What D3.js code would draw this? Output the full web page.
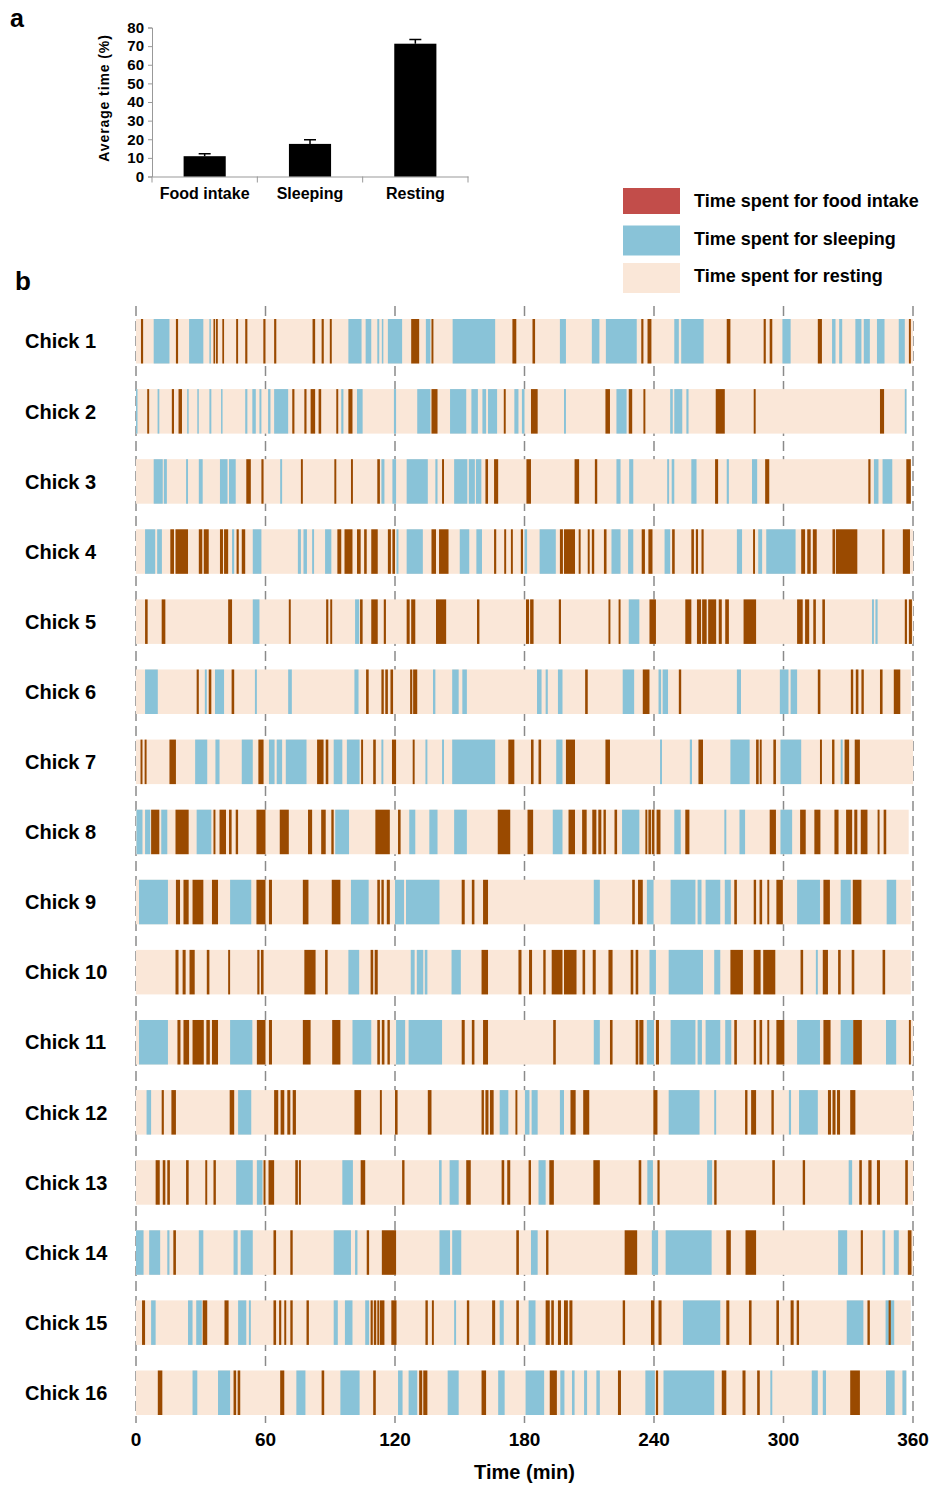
<!DOCTYPE html>
<html>
<head>
<meta charset="utf-8">
<script src="https://cdn.jsdelivr.net/npm/d3@7"></script>
<style>
  body { margin: 0; background: #fff; }
  svg { display: block; font-family: Arial, "Liberation Sans", sans-serif; font-weight: bold; }
</style>
</head>
<body>
<div id="vis"></div>
<script>
// ---- panel a: average time per behaviour ----
var behaviours = ['Food intake', 'Sleeping', 'Resting'];
var avgTime = [10.9, 17.5, 71.3];
var avgErr = [1.3, 2.2, 2.3];
var yTicks = [0, 10, 20, 30, 40, 50, 60, 70, 80];

// ---- panel b: ethogram, one array per chick ----
// each entry: [start min, end min, 'F' food intake | 'S' sleeping], rest of the time is resting
var chickNames = ['Chick 1', 'Chick 2', 'Chick 3', 'Chick 4', 'Chick 5', 'Chick 6', 'Chick 7', 'Chick 8',
  'Chick 9', 'Chick 10', 'Chick 11', 'Chick 12', 'Chick 13', 'Chick 14', 'Chick 15', 'Chick 16'];
var sessionEnd = [360, 357, 359, 360, 360, 359, 360, 358, 359, 359, 360, 360, 360, 360, 359, 357];
var timeTicks = [0, 60, 120, 180, 240, 300, 360];

var chick1 = [[2.3,3.3,'F'],[8.2,15.5,'S'],[18.5,19.5,'F'],[24.6,31.2,'S'],[34,34.7,'S'],[35.9,36.6,'F'],[37,37.9,'F'],
  [40,40.8,'F'],[46.4,47.3,'F'],[50.6,51.6,'F'],[59,60,'F'],[64,65,'F'],[81.8,83,'F'],[86,87,'F'],[89.8,90.7,'F'],
  [98.4,104.5,'S'],[106.4,109,'S'],[111.8,112.7,'S'],[113.9,114.6,'S'],[116.7,123.3,'S'],[127.5,131.2,'F'],
  [134.3,136.4,'S'],[136.9,137.8,'F'],[146.7,166.4,'S'],[174.4,176.2,'F'],[183.7,184.9,'F'],[196.4,199.2,'S'],
  [211.2,214.7,'S'],[217.7,232,'S'],[234.1,235.1,'F'],[237,238.8,'F'],[249.4,251.5,'S'],[252.6,263,'S'],
  [273.7,275.4,'F'],[290.8,291.8,'F'],[293.6,294.8,'F'],[299.5,303.3,'S'],[315.9,317.8,'F'],[322.5,324.1,'S'],
  [325.8,327.2,'S'],[333.3,336.1,'S'],[337.2,340,'S'],[343.3,346.8,'S'],[353.4,356.2,'S'],[358.1,359,'F']];

var chick2 = [[0,0.6,'S'],[5.2,6.1,'F'],[10,10.8,'S'],[16.6,17.6,'F'],[19.7,21.3,'F'],[23.7,24.4,'S'],[28.4,29.1,'S'],
  [34,34.9,'S'],[39.4,40.1,'S'],[50.6,51.6,'S'],[53.9,55.5,'S'],[57.2,58.1,'S'],[61.2,62.3,'S'],[64,70.5,'S'],
  [72.4,73.4,'F'],[78,79,'F'],[80.9,83,'F'],[84.6,85.8,'F'],[92.8,93.7,'F'],[95.1,96.1,'S'],[98.4,100.3,'F'],
  [102.4,105,'S'],[119.5,120.5,'S'],[130.3,136.4,'S'],[136.9,139.7,'F'],[145.5,153,'S'],[155.4,158.4,'S'],
  [160.5,162.2,'S'],[163.1,167.3,'S'],[170.4,171.3,'F'],[175.3,177.2,'S'],[178.8,180,'S'],[183,186.1,'F'],
  [198.3,199.2,'S'],[217.5,219.6,'F'],[222.6,227.3,'S'],[228.3,229.9,'F'],[235.1,236,'F'],[247.5,248.7,'S'],
  [249.4,253.1,'S'],[255,256,'S'],[268.6,272.8,'F'],[286.2,287.1,'F'],[344.7,346.6,'F'],[356.2,357,'S']];

var chick3 = [[8.2,12.4,'S'],[12.9,14.3,'S'],[23.2,24.1,'S'],[29.1,30.9,'S'],[38.9,42.4,'S'],[43.1,46.2,'S'],
  [51.1,53.2,'F'],[58.1,59.1,'F'],[66.8,67.7,'S'],[76.4,77.3,'F'],[91.9,92.8,'F'],[99.6,100.5,'F'],[111.8,113,'F'],
  [113.7,115.1,'S'],[118.8,120.5,'S'],[125.4,135.2,'S'],[138.7,139.7,'S'],[141.8,142.7,'F'],[147.4,153.5,'S'],
  [154.2,157,'S'],[157.5,160,'S'],[161.9,163.1,'F'],[165.9,167.8,'F'],[180.9,183,'F'],[203.2,205.3,'F'],
  [212.6,213.7,'F'],[222.6,224.5,'S'],[228.5,230.4,'S'],[246.1,247,'S'],[248.2,249.4,'S'],[257.3,259.7,'S'],
  [268.3,269.7,'F'],[273.7,274.7,'S'],[285.4,287.8,'S'],[291.5,293.4,'F'],[339.3,340.3,'F'],[341.9,344,'S'],
  [345.9,350.4,'S'],[356.9,359,'F']];

var chick4 = [[4.2,8.9,'S'],[9.8,12,'S'],[15.9,17.6,'F'],[18.3,24.1,'F'],[29.1,30.7,'F'],[31.4,33.7,'F'],
  [38.9,40.3,'F'],[40.8,42.7,'F'],[44.5,45.5,'S'],[46.6,47.6,'F'],[49,50.6,'F'],[54.1,58.1,'S'],[75,76.4,'S'],
  [77.6,79.2,'S'],[81.6,82.5,'S'],[87.6,90.5,'S'],[93.3,95.1,'F'],[96.6,100.3,'F'],[102.4,104.1,'F'],
  [105.7,106.9,'F'],[109,112,'F'],[116.7,118.1,'F'],[118.8,120,'F'],[120.7,121.6,'S'],[125.4,132.9,'S'],
  [136.9,139,'F'],[140.4,144.8,'F'],[150,154.4,'S'],[157.7,160.3,'S'],[165.9,166.9,'F'],[170.6,171.5,'F'],
  [173.7,174.6,'F'],[178.3,179.3,'F'],[180,181.2,'S'],[187,194.5,'S'],[196.4,197.8,'F'],[198.3,203.4,'F'],
  [205.1,206,'F'],[209.3,210.2,'F'],[211.2,212.3,'F'],[216.8,218,'F'],[220.3,224.5,'S'],[228,230.4,'S'],
  [234.3,235.8,'F'],[237.4,239.3,'F'],[244.9,247.5,'S'],[248.4,249.6,'F'],[257.3,258.5,'F'],[259.4,260.4,'F'],
  [262,263,'F'],[278.4,280.8,'S'],[285.9,286.8,'F'],[288.3,290.1,'S'],[292,305.6,'S'],[308.2,310,'F'],
  [311,312.6,'F'],[313.6,315.4,'F'],[322.7,323.9,'F'],[324.3,334.2,'F'],[345.7,346.8,'F'],[355.3,358.6,'F']];

var chick5 = [[4.2,5.4,'F'],[11.9,13.6,'F'],[42.7,44.5,'F'],[54.1,57.2,'S'],[70.8,71.7,'F'],[88.1,89.1,'F'],
  [90,90.9,'F'],[101.5,103.4,'S'],[103.8,105,'F'],[109,112,'F'],[114.8,115.8,'F'],[125.4,126.8,'F'],
  [127.5,129.4,'F'],[139,143.7,'F'],[158,159.1,'F'],[180.7,182.1,'F'],[182.6,184.2,'F'],[195.9,196.9,'F'],
  [218.9,219.8,'F'],[223.6,224.5,'F'],[228.3,233.2,'S'],[237.9,240.9,'F'],[254.5,257.3,'F'],[259.9,261.8,'F'],
  [262.3,264.4,'F'],[265.1,268.8,'F'],[270,271.4,'F'],[273,274.7,'F'],[281.5,287.3,'F'],[306.3,308.9,'F'],
  [310,311.9,'F'],[313.8,315,'F'],[318,319.2,'F'],[341,341.9,'S'],[342.6,343.6,'S'],[356.2,357.2,'F'],
  [358.1,359.5,'F']];

var chick6 = [[4.2,10.1,'S'],[28.1,29.1,'F'],[31.9,32.8,'S'],[33.7,34.9,'F'],[36.6,40.8,'S'],[44.3,45.5,'F'],
  [55.1,56,'S'],[70.5,72.2,'S'],[101.2,103.1,'S'],[106.6,107.8,'F'],[113.7,114.8,'F'],[115.5,116.7,'F'],
  [117.9,119.1,'F'],[127,128,'F'],[128.4,130.3,'F'],[137.6,138.7,'S'],[146.5,149.5,'S'],[151.2,153.3,'S'],
  [185.8,187.9,'S'],[189.8,190.8,'S'],[195.5,197.6,'S'],[208.1,209.3,'F'],[225.5,230.8,'S'],[234.8,237.9,'F'],
  [242.1,243.3,'S'],[244,246.5,'S'],[251.5,252.6,'F'],[278.4,280.3,'S'],[298.3,302.3,'S'],[303.3,306.3,'S'],
  [315.9,317.1,'F'],[331.2,332.3,'F'],[333.5,334.7,'F'],[336.1,337.2,'F'],[344.7,345.9,'F'],[351.1,354.1,'F']];

var chick7 = [[2.1,3,'F'],[4,4.9,'F'],[15.5,18.5,'F'],[27.4,33,'S'],[36.8,38.7,'S'],[49,54.1,'S'],[56.7,59.1,'F'],
  [61.6,64.2,'S'],[65.2,67.7,'S'],[69.4,79,'S'],[83.9,86.9,'F'],[87.9,89.1,'F'],[91.6,95.6,'S'],[97.7,103.6,'S'],
  [104.3,105.2,'F'],[109.9,111.1,'F'],[113.7,114.6,'S'],[118.6,120.5,'F'],[128.2,129.1,'F'],[134.1,135,'S'],
  [141.8,142.7,'S'],[146.5,166.4,'S'],[172.5,175.3,'F'],[183,184.2,'F'],[186.5,187.7,'F'],[194.7,197.6,'S'],
  [199.2,203.4,'F'],[217.5,219.6,'F'],[242.8,243.7,'S'],[256.6,257.6,'S'],[260.6,262.7,'F'],[275.4,284.3,'S'],
  [287.3,288.5,'F'],[289,289.9,'F'],[295.3,296.5,'F'],[298.6,308.2,'S'],[316.9,317.8,'F'],[322.5,323.6,'F'],
  [326.5,327.4,'S'],[328.3,330.4,'F'],[333,335.4,'F']];

var chick8 = [[0.2,3,'S'],[4.2,6.6,'S'],[7,10.8,'F'],[11.7,14.5,'S'],[18.3,24.4,'F'],[28.1,34.9,'S'],[35.9,36.8,'F'],
  [38.7,41.7,'F'],[43.1,44.3,'F'],[46.2,47.3,'F'],[55.8,60,'F'],[66.6,70.8,'F'],[79.7,81.6,'F'],[85.8,87.9,'F'],
  [90.5,91.6,'F'],[92.3,98.7,'S'],[110.9,117.6,'F'],[121.4,122.6,'F'],[126.6,129.4,'S'],[135.9,139.7,'S'],
  [147.4,153.3,'S'],[167.6,173.4,'F'],[181.4,184,'F'],[193.1,197.6,'S'],[200.4,203.4,'F'],[206.7,208.8,'F'],
  [211.4,213.3,'F'],[214.2,215.6,'F'],[216.6,217.7,'F'],[221.7,222.9,'F'],[225.2,233.2,'S'],[236,236.9,'F'],
  [237.4,238.6,'F'],[239,240.2,'F'],[241.2,243,'F'],[249.4,252.4,'S'],[254.5,256.4,'F'],[272.6,273.5,'S'],
  [279.6,282.2,'S'],[293.6,296.5,'F'],[298.6,304,'S'],[307.7,310.3,'F'],[314.3,317.1,'F'],[323.6,325.5,'F'],
  [329,331.8,'F'],[332.8,334.2,'F'],[335.8,338.9,'F'],[343.6,344.5,'F'],[346.4,347.6,'F']];

var chick9 = [[1.4,14.8,'S'],[18.5,20.4,'F'],[22,24.4,'F'],[26.2,31.2,'F'],[35.2,38,'F'],[43.6,53.4,'S'],
  [55.8,60,'F'],[61.6,63,'F'],[77.3,79.9,'F'],[90.7,94.7,'F'],[99.6,107.8,'S'],[111.8,113,'F'],[113.7,114.8,'F'],
  [116.2,117.6,'F'],[120,124.2,'S'],[125.1,140.6,'S'],[150.9,152.3,'F'],[155.6,156.8,'F'],[160.8,163.1,'F'],
  [212.1,214.9,'S'],[229.9,231.1,'F'],[232.6,234.8,'F'],[236.7,239.8,'S'],[247.7,259.2,'S'],[260.2,262,'S'],
  [263.9,270.7,'S'],[272.8,275.6,'S'],[277.2,278.4,'F'],[286.2,287.3,'F'],[288.9,290.1,'F'],[292.5,293.4,'F'],
  [296.7,299.7,'F'],[306.3,316.9,'S'],[318.5,321.5,'F'],[326.5,331.2,'S'],[332.1,336.1,'F'],[347.8,352.2,'S']];

var chick10 = [[18.3,19.7,'F'],[21.6,23,'F'],[24.8,27.2,'F'],[32.8,34,'F'],[42.7,43.6,'F'],[56.2,57.2,'F'],
  [57.9,59.1,'F'],[78,83.2,'F'],[87.6,88.8,'F'],[98.4,103.4,'S'],[108.7,109.9,'F'],[110.6,112,'F'],
  [127.3,129.1,'S'],[130.1,133.1,'S'],[133.8,135,'S'],[146.2,150.5,'S'],[160.1,163.1,'F'],[177.2,178.6,'F'],
  [182.1,183.5,'F'],[188.7,189.8,'F'],[192.6,197.6,'F'],[198.3,204.1,'F'],[206.9,208.1,'F'],[211.6,213,'F'],
  [218.9,220.8,'F'],[229.2,230.4,'F'],[231.5,232.7,'F'],[237.9,240.9,'S'],[246.8,262.7,'S'],[267.9,270.7,'S'],
  [275.4,281.2,'F'],[286.2,289.4,'F'],[290.6,296.2,'F'],[307.9,309.1,'F'],[315,315.9,'S'],[318.2,320.6,'F'],
  [325.3,326.5,'F'],[331.6,332.8,'F'],[345.9,347.1,'F']];

var chick11 = [[1.4,14.8,'S'],[19.2,20.6,'F'],[22,24.6,'F'],[26.2,31.4,'F'],[32.6,34.2,'F'],[35.2,38,'F'],
  [43.6,53.9,'S'],[56,60,'F'],[61.6,63,'F'],[77.3,80.9,'F'],[90.9,94.7,'F'],[100.3,109,'S'],[111.8,113,'F'],
  [113.9,115.1,'F'],[116.5,117.6,'F'],[120.5,124.7,'S'],[126.3,141.8,'S'],[150.9,152.3,'F'],[155.6,156.8,'F'],
  [160.8,163.1,'F'],[193.3,194.5,'F'],[212.1,214.9,'S'],[219.6,220.8,'F'],[231.5,232.7,'F'],[233.2,235.1,'F'],
  [236.7,240,'S'],[240.9,242.3,'F'],[247.7,259.2,'S'],[260.2,262.2,'S'],[263.9,270.7,'S'],[273,275.8,'S'],
  [277.2,278.4,'F'],[286.2,287.3,'F'],[288.9,290.1,'F'],[292.5,293.4,'F'],[296.7,300.4,'F'],[306.3,316.9,'S'],
  [318.5,321.8,'F'],[326.5,332.3,'S'],[332.3,336.3,'F'],[347.5,352.2,'S'],[358.1,359,'F']];

var chick12 = [[4.9,7,'S'],[11.9,12.9,'F'],[16.4,18.5,'F'],[43.4,45.5,'F'],[47.3,53.4,'S'],[64,65.9,'F'],
  [67,68.7,'F'],[70.1,71.5,'F'],[72.6,74.1,'F'],[101.2,104.3,'F'],[113,113.9,'F'],[120,121.2,'F'],
  [135.2,136.9,'F'],[160.1,161.2,'F'],[161.9,163.3,'F'],[164,165.7,'F'],[168.5,172.5,'S'],[175.8,176.7,'F'],
  [180.2,182.3,'S'],[183.3,186.1,'S'],[196.4,198.3,'S'],[201.3,203.7,'F'],[207.2,210,'F'],[239.7,241.6,'F'],
  [246.8,261.1,'S'],[267.9,268.8,'S'],[282.2,283.3,'F'],[285,287.3,'F'],[294.4,295.5,'F'],[302.5,303.5,'S'],
  [307.2,315.9,'S'],[320.6,322,'F'],[322.7,324.1,'F'],[324.8,326.2,'F'],[330.9,333.3,'F']];

var chick13 = [[9.1,11,'F'],[12.4,13.6,'F'],[14.5,15.7,'F'],[23.2,24.4,'F'],[32.1,33,'F'],[35.9,37,'F'],
  [46.4,54.1,'S'],[56,58.6,'S'],[59.1,60,'F'],[61.4,64,'F'],[73.8,75,'F'],[75.5,76.4,'F'],[95.6,100.5,'S'],
  [104.1,106.2,'F'],[123.3,124.4,'F'],[140.4,141.6,'S'],[145.3,149.5,'S'],[153,155.1,'F'],[169.4,170.6,'F'],
  [172,173.4,'F'],[181.9,183,'F'],[186.5,189.8,'S'],[191.5,193.6,'F'],[211.9,214.9,'F'],[232.9,234.1,'F'],
  [236.9,239.5,'S'],[241.6,242.6,'F'],[264.6,266.9,'S'],[267.9,269,'F'],[294.8,296,'F'],[308.9,310,'F'],
  [330.2,331.8,'S'],[335.1,336.3,'F'],[339.3,340.8,'F'],[343.3,344.7,'F'],[356.4,357.6,'F']];

var chick14 = [[0,3.5,'S'],[6.1,11.2,'S'],[14.5,15.5,'S'],[17.3,18.5,'F'],[29.1,31.2,'S'],[45.2,47.1,'S'],
  [48.5,54.1,'S'],[63.7,64.9,'F'],[71.5,72.6,'F'],[91.6,99.6,'S'],[101.5,102.6,'S'],[106.9,108,'F'],
  [113.9,120.5,'F'],[140.6,145.5,'S'],[146.5,150.7,'S'],[176.2,177.4,'F'],[183,186.1,'S'],[190,191.1,'F'],
  [226.4,232.2,'F'],[239,241.9,'S'],[245.4,266.7,'S'],[273.5,275.6,'F'],[282.4,287.3,'F'],[325.3,329.5,'S'],
  [335.8,336.8,'F'],[345.9,347.1,'S'],[351.1,353.4,'S'],[357.6,359.3,'F']];

var chick15 = [[2.8,4.2,'F'],[7,9.1,'S'],[24.1,26.2,'S'],[27.9,30.5,'S'],[30.9,33,'F'],[41,42.9,'F'],
  [47.3,51.1,'S'],[52.3,53.2,'S'],[63.7,64.9,'F'],[66.3,67.3,'F'],[68.7,69.6,'F'],[71.5,72.6,'F'],[79,80.1,'F'],
  [91.6,93.5,'S'],[96.8,100.3,'S'],[106.2,108,'S'],[108.7,109.7,'F'],[110.2,111.3,'F'],[111.8,112.7,'F'],
  [113,115.1,'F'],[118.3,120.7,'F'],[134.1,135.2,'F'],[137.1,138,'F'],[147.4,148.3,'S'],[153.3,154.4,'F'],
  [165,166.4,'F'],[168.5,170.4,'S'],[176.2,177.4,'F'],[181.9,185.1,'S'],[189.8,191.7,'F'],[192.4,193.6,'F'],
  [195.5,196.9,'F'],[198.3,200.1,'F'],[200.8,202.2,'F'],[225.5,226.6,'F'],[238.6,240.2,'F'],[242.1,243.5,'F'],
  [253.4,270.7,'S'],[273.5,274.9,'F'],[284,285.2,'F'],[296.7,297.9,'F'],[303.3,304.7,'F'],[306.1,307.2,'F'],
  [329.3,337,'S'],[338.9,340,'F'],[347.3,351.3,'S'],[348.7,349.7,'F']];

var chick16 = [[10.1,12.2,'F'],[26.2,28.4,'S'],[38,43.6,'S'],[45.2,46.4,'F'],[47.1,48.3,'F'],[66.8,68.7,'F'],
  [74.3,78.5,'S'],[86,87.2,'F'],[94.7,103.6,'S'],[109.9,111.1,'F'],[121.4,123.5,'S'],[126.3,130.3,'S'],
  [131.2,132.6,'F'],[133.1,135,'F'],[144.4,149.5,'S'],[160.1,162.2,'F'],[167.8,170.8,'S'],[180.5,189.1,'S'],
  [191.7,195,'F'],[196.6,198.5,'S'],[202,203.2,'S'],[207.6,209,'S'],[213.3,214.9,'S'],[223.3,224.7,'F'],
  [236,240.4,'S'],[240.9,241.9,'F'],[244.4,267.9,'S'],[271.4,273.5,'F'],[281,282.4,'F'],[287.8,289,'F'],
  [293.9,294.8,'S'],[313.1,315.9,'S'],[318.2,319.7,'S'],[330.9,335.4,'F'],[347.5,351.5,'S'],[355.1,356.9,'S']];

var chickEpisodes = [chick1, chick2, chick3, chick4, chick5, chick6, chick7, chick8,
  chick9, chick10, chick11, chick12, chick13, chick14, chick15, chick16];

// legend entries
var legendLabels = ['Time spent for food intake', 'Time spent for sleeping', 'Time spent for resting'];

// colours
var foodColor = '#9a4a00';
var foodLegendColor = '#c24d4a';
var sleepColor = '#89c3d8';
var restColor = '#fae7d8';
var gridColor = '#8a8a8a';

var width = 930;
var height = 1485;

var svg = d3.select('#vis').append('svg')
  .attr('width', width)
  .attr('height', height);

// panel letters
svg.append('text').text('a')
  .attr('x', 10).attr('y', 27)
  .style('font-size', '25px');
svg.append('text').text('b')
  .attr('x', 15).attr('y', 290)
  .style('font-size', '26px');

// ================= panel a =================
var barX = d3.scaleBand()
  .domain(behaviours)
  .range([152, 468])
  .paddingInner(0.6)
  .paddingOuter(0.3);

var barY = d3.scaleLinear()
  .domain([0, 80])
  .range([176.5, 27.5]);

var ga = svg.append('g');

var yAxis = d3.axisLeft(barY)
  .tickValues(yTicks)
  .tickSize(4)
  .tickPadding(4);

var yAxisG = ga.append('g')
  .attr('transform', 'translate(152,0)')
  .call(yAxis);
yAxisG.select('.domain').attr('stroke', '#999');
yAxisG.selectAll('.tick line').attr('stroke', '#999');
yAxisG.selectAll('.tick text')
  .style('font-size', '15px')
  .style('font-weight', 'bold')
  .attr('fill', '#000')
  .attr('font-family', 'Arial, "Liberation Sans", sans-serif');

// x baseline with ticks between categories
var xAxis = d3.axisBottom(barX).tickSize(0).tickPadding(11);
var xAxisG = ga.append('g')
  .attr('transform', 'translate(0,' + barY(0) + ')')
  .call(xAxis);
xAxisG.select('.domain').attr('stroke', '#999');
xAxisG.selectAll('.tick text')
  .style('font-size', '16px')
  .style('font-weight', 'bold')
  .attr('fill', '#000')
  .attr('font-family', 'Arial, "Liberation Sans", sans-serif');

var boundaries = behaviours.map(function (d) { return barX(d) - barX.step() * barX.paddingInner() / 2; });
boundaries.push(barX.range()[1]);
boundaries[0] = barX.range()[0];
ga.selectAll('.xsep').data(boundaries).enter()
  .append('line')
  .attr('class', 'xsep')
  .attr('x1', function (d) { return d; })
  .attr('x2', function (d) { return d; })
  .attr('y1', barY(0))
  .attr('y2', barY(0) + 6)
  .attr('stroke', '#999');

// bars
ga.selectAll('.bar').data(avgTime).enter()
  .append('rect')
  .attr('class', 'bar')
  .attr('x', function (d, i) { return barX(behaviours[i]); })
  .attr('width', barX.bandwidth())
  .attr('y', function (d) { return barY(d); })
  .attr('height', function (d) { return barY(0) - barY(d); })
  .attr('fill', '#000');

// upper error bars
ga.selectAll('.err').data(avgTime).enter()
  .append('path')
  .attr('class', 'err')
  .attr('d', function (d, i) {
    var cx = barX(behaviours[i]) + barX.bandwidth() / 2;
    var top = barY(d + avgErr[i]);
    return 'M' + cx + ',' + barY(d) + 'V' + top + 'M' + (cx - 6) + ',' + top + 'H' + (cx + 6);
  })
  .attr('stroke', '#000')
  .attr('stroke-width', 1.5)
  .attr('fill', 'none');

// y title
ga.append('text')
  .text('Average time (%)')
  .attr('transform', 'translate(109,98) rotate(-90)')
  .attr('text-anchor', 'middle')
  .style('font-size', '14px')
  .style('letter-spacing', '0.9px');

// legend
var legendColors = [foodLegendColor, sleepColor, restColor];
var legend = svg.append('g').attr('transform', 'translate(623,188)');
var items = legend.selectAll('.leg').data(legendLabels).enter()
  .append('g')
  .attr('class', 'leg')
  .attr('transform', function (d, i) { return 'translate(0,' + (i * 37.5) + ')'; });
items.append('rect')
  .attr('width', 57)
  .attr('height', function (d, i) { return i === 0 ? 26 : 30; })
  .attr('fill', function (d, i) { return legendColors[i]; });
items.append('text')
  .text(function (d) { return d; })
  .attr('x', 71)
  .attr('y', 13)
  .attr('dy', '0.36em')
  .style('font-size', '18px');

// ================= panel b =================
var x = d3.scaleLinear()
  .domain([0, 360])
  .range([136, 913]);

var y = d3.scaleBand()
  .domain(chickNames)
  .range([319, 1415])
  .paddingInner(0.365)
  .paddingOuter(0);

var gb = svg.append('g');

// dashed hour lines sit behind the rows
gb.selectAll('.grid').data(timeTicks).enter()
  .append('line')
  .attr('class', 'grid')
  .attr('x1', function (d) { return x(d); })
  .attr('x2', function (d) { return x(d); })
  .attr('y1', 306)
  .attr('y2', 1423)
  .attr('stroke', gridColor)
  .attr('stroke-width', 1.5)
  .attr('stroke-dasharray', '10,5');

var rows = gb.selectAll('.row').data(chickEpisodes).enter()
  .append('g')
  .attr('class', 'row')
  .attr('transform', function (d, i) { return 'translate(0,' + y(chickNames[i]) + ')'; });

// resting background
rows.append('rect')
  .attr('x', x(0))
  .attr('width', function (d, i) { return x(sessionEnd[i]) - x(0); })
  .attr('height', y.bandwidth())
  .attr('fill', restColor);

// sleeping first, food on top
rows.selectAll('.ep')
  .data(function (d) {
    return d.slice().sort(function (a, b) { return (a[2] === 'F') - (b[2] === 'F'); });
  })
  .enter()
  .append('rect')
  .attr('class', 'ep')
  .attr('x', function (d) { return x(d[0]); })
  .attr('width', function (d) { return Math.max(x(d[1]) - x(d[0]), 1.5); })
  .attr('height', y.bandwidth())
  .attr('fill', function (d) { return d[2] === 'F' ? foodColor : sleepColor; });

// chick labels
gb.selectAll('.clabel').data(chickNames).enter()
  .append('text')
  .attr('class', 'clabel')
  .text(function (d) { return d; })
  .attr('x', 25)
  .attr('y', function (d) { return y(d) + y.bandwidth() / 2; })
  .attr('dy', '0.36em')
  .style('font-size', '20px');

// time tick labels
gb.selectAll('.tlabel').data(timeTicks).enter()
  .append('text')
  .attr('class', 'tlabel')
  .text(function (d) { return d; })
  .attr('x', function (d) { return x(d); })
  .attr('y', 1446)
  .attr('text-anchor', 'middle')
  .style('font-size', '19px');

gb.append('text')
  .text('Time (min)')
  .attr('x', (x(0) + x(360)) / 2)
  .attr('y', 1479)
  .attr('text-anchor', 'middle')
  .style('font-size', '20px');
</script>
</body>
</html>
